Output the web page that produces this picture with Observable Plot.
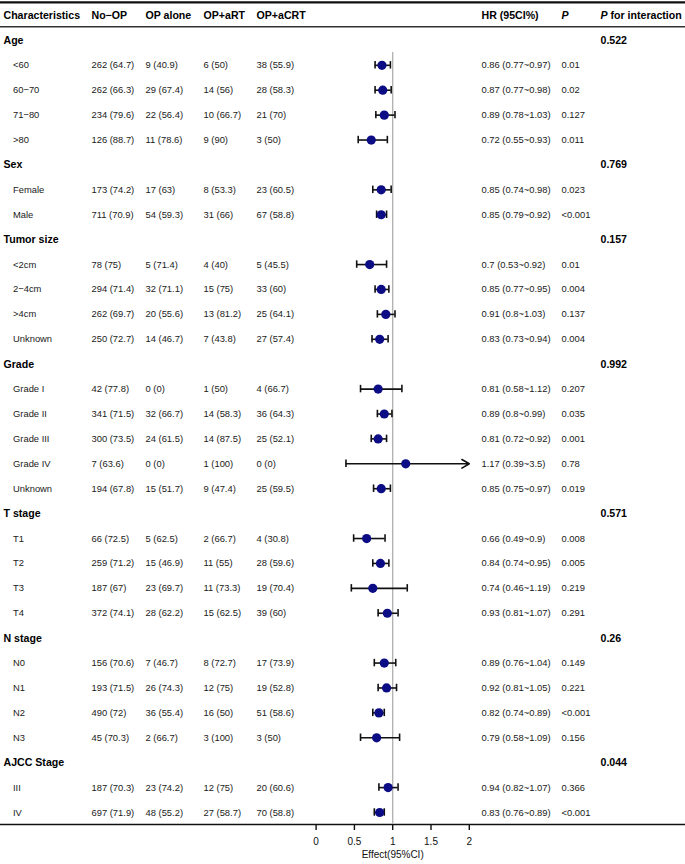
<!DOCTYPE html>
<html>
<head>
<meta charset="utf-8">
<script src="https://cdn.jsdelivr.net/npm/d3@7"></script>
<script src="https://cdn.jsdelivr.net/npm/@observablehq/plot@0.6"></script>
<style>
  html, body { margin: 0; padding: 0; background: #fff; }
  #chart svg { display: block; }
</style>
</head>
<body>
<div id="chart"></div>
<script>
// ---------- data ----------
const headers = ["Characteristics", "No−OP", "OP alone", "OP+aRT", "OP+aCRT", "HR (95CI%)", "P", "P for interaction"];
const groups = ["Age", "Sex", "Tumor size", "Grade", "T stage", "N stage", "AJCC Stage"];
const pInteraction = ["0.522", "0.769", "0.157", "0.992", "0.571", "0.26", "0.044"];

const subGroup = ["Age","Age","Age","Age","Sex","Sex","Tumor size","Tumor size","Tumor size","Tumor size",
  "Grade","Grade","Grade","Grade","Grade","T stage","T stage","T stage","T stage",
  "N stage","N stage","N stage","N stage","AJCC Stage","AJCC Stage"];
const subLabels = ["<60","60−70","71−80",">80","Female","Male","<2cm","2−4cm",">4cm","Unknown",
  "Grade I","Grade II","Grade III","Grade IV","Unknown","T1","T2","T3","T4",
  "N0","N1","N2","N3","III","IV"];
const noOp = ["262 (64.7)","262 (66.3)","234 (79.6)","126 (88.7)","173 (74.2)","711 (70.9)","78 (75)","294 (71.4)","262 (69.7)","250 (72.7)",
  "42 (77.8)","341 (71.5)","300 (73.5)","7 (63.6)","194 (67.8)","66 (72.5)","259 (71.2)","187 (67)","372 (74.1)",
  "156 (70.6)","193 (71.5)","490 (72)","45 (70.3)","187 (70.3)","697 (71.9)"];
const opAlone = ["9 (40.9)","29 (67.4)","22 (56.4)","11 (78.6)","17 (63)","54 (59.3)","5 (71.4)","32 (71.1)","20 (55.6)","14 (46.7)",
  "0 (0)","32 (66.7)","24 (61.5)","0 (0)","15 (51.7)","5 (62.5)","15 (46.9)","23 (69.7)","28 (62.2)",
  "7 (46.7)","26 (74.3)","36 (55.4)","2 (66.7)","23 (74.2)","48 (55.2)"];
const opArt = ["6 (50)","14 (56)","10 (66.7)","9 (90)","8 (53.3)","31 (66)","4 (40)","15 (75)","13 (81.2)","7 (43.8)",
  "1 (50)","14 (58.3)","14 (87.5)","1 (100)","9 (47.4)","2 (66.7)","11 (55)","11 (73.3)","15 (62.5)",
  "8 (72.7)","12 (75)","16 (50)","3 (100)","12 (75)","27 (58.7)"];
const opAcrt = ["38 (55.9)","28 (58.3)","21 (70)","3 (50)","23 (60.5)","67 (58.8)","5 (45.5)","33 (60)","25 (64.1)","27 (57.4)",
  "4 (66.7)","36 (64.3)","25 (52.1)","0 (0)","25 (59.5)","4 (30.8)","28 (59.6)","19 (70.4)","39 (60)",
  "17 (73.9)","19 (52.8)","51 (58.6)","3 (50)","20 (60.6)","70 (58.8)"];
const hr = [0.86,0.87,0.89,0.72,0.85,0.85,0.7,0.85,0.91,0.83,0.81,0.89,0.81,1.17,0.85,0.66,0.84,0.74,0.93,0.89,0.92,0.82,0.79,0.94,0.83];
const lo = [0.77,0.77,0.78,0.55,0.74,0.79,0.53,0.77,0.8,0.73,0.58,0.8,0.72,0.39,0.75,0.49,0.74,0.46,0.81,0.76,0.81,0.74,0.58,0.82,0.76];
const hi = [0.97,0.98,1.03,0.93,0.98,0.92,0.92,0.95,1.03,0.94,1.12,0.99,0.92,3.5,0.97,0.9,0.95,1.19,1.07,1.04,1.05,0.89,1.09,1.07,0.89];
const pValue = ["0.01","0.02","0.127","0.011","0.023","<0.001","0.01","0.004","0.137","0.004","0.207","0.035","0.001","0.78","0.019",
  "0.008","0.005","0.219","0.291","0.149","0.221","<0.001","0.156","0.366","<0.001"];
const xTicks = [0, 0.5, 1, 1.5, 2];
const xLabel = "Effect(95%CI)";

// ---------- layout (pixels) ----------
const W = 685, H = 864;
const colX = [3, 91, 145, 203, 256, 481, 561, 600];
const indent = 12.5;
const font = "Arial, 'Liberation Sans', Helvetica, sans-serif";
const bodySize = 9.4, headSize = 10.6;
const capHalf = 0.15;

// ---------- build rows ----------
const groupRows = [], subRows = [];
let r = 0;
groups.forEach((g, gi) => {
  groupRows.push({label: g, pint: pInteraction[gi], row: r++});
  subLabels.forEach((s, i) => {
    if (subGroup[i] !== g) return;
    subRows.push({
      label: s, noOp: noOp[i], opAlone: opAlone[i], opArt: opArt[i], opAcrt: opAcrt[i],
      hr: hr[i], lo: lo[i], hi: hi[i], p: pValue[i],
      hrText: `${hr[i]} (${lo[i]}~${hi[i]})`, row: r++
    });
  });
});
const lastRow = r - 1;
const xMax = xTicks[xTicks.length - 1];
const inRange = subRows.filter(d => d.hi <= xMax);
const overRange = subRows.filter(d => d.hi > xMax);

const headerRow = [{row: -1}];
const txt = (data, text, dx, extra = {}) => Plot.text(data, {
  y: "row", text, frameAnchor: "left", dx, textAnchor: "start",
  fontSize: bodySize, fill: "#1a1a1a", ...extra
});
const bold = {fontWeight: "bold", fontSize: headSize, fill: "#000"};

const chart = Plot.plot({
  width: W, height: H,
  marginTop: 52, marginBottom: 40, marginLeft: 0, marginRight: 0,
  style: {fontFamily: font, fontSize: "10px", background: "#fff", color: "#111"},
  x: {domain: [0, xMax], range: [315.6, 468.8], label: null},
  y: {type: "linear", domain: [-1, lastRow], range: [15, 812], axis: null},
  marks: [
    // table rules
    Plot.ruleY(headerRow, {y: "row", dy: -13.2, stroke: "#111", strokeWidth: 2.2}),
    Plot.ruleY(headerRow, {y: "row", dy: 11.2, stroke: "#333", strokeWidth: 1.6}),
    Plot.ruleY([lastRow + 0.48], {stroke: "#111", strokeWidth: 1.6}),
    // reference line
    Plot.ruleX([1], {stroke: "#b0b0b0", strokeWidth: 1.3}),
    // x axis
    Plot.axisX(xTicks, {anchor: "bottom", tickSize: 6, tickPadding: 7, tickFormat: d => String(d),
      stroke: "#111", strokeWidth: 1.4, fill: "#111", fontSize: 10, label: null}),
    // header
    txt(headerRow, () => headers[0], colX[0], bold),
    txt(headerRow, () => headers[1], colX[1], bold),
    txt(headerRow, () => headers[2], colX[2], bold),
    txt(headerRow, () => headers[3], colX[3], bold),
    txt(headerRow, () => headers[4], colX[4], bold),
    txt(headerRow, () => headers[5], colX[5], bold),
    txt(headerRow, () => headers[6], colX[6], {...bold, fontStyle: "italic"}),
    txt(headerRow, () => headers[7].slice(0, 1), colX[7], {...bold, fontStyle: "italic"}),
    txt(headerRow, () => headers[7].slice(2), colX[7] + 10, bold),
    // group rows
    txt(groupRows, "label", colX[0], bold),
    txt(groupRows, "pint", colX[7], bold),
    // sub rows
    txt(subRows, "label", indent),
    txt(subRows, "noOp", colX[1]),
    txt(subRows, "opAlone", colX[2]),
    txt(subRows, "opArt", colX[3]),
    txt(subRows, "opAcrt", colX[4]),
    txt(subRows, "hrText", colX[5]),
    txt(subRows, "p", colX[6]),
    // confidence intervals
    Plot.ruleY(inRange, {y: "row", x1: "lo", x2: "hi", stroke: "#111", strokeWidth: 1.6}),
    Plot.ruleX(subRows, {x: "lo", y1: d => d.row - capHalf, y2: d => d.row + capHalf, stroke: "#111", strokeWidth: 1.6}),
    Plot.ruleX(inRange, {x: "hi", y1: d => d.row - capHalf, y2: d => d.row + capHalf, stroke: "#111", strokeWidth: 1.6}),
    Plot.arrow(overRange, {x1: "lo", x2: () => xMax, y1: "row", y2: "row", stroke: "#111", strokeWidth: 1.6, headLength: 8, bend: 0}),
    // point estimates
    Plot.dot(subRows, {x: "hr", y: "row", r: 4.6, fill: "#0c0c85", stroke: "none"}),
    // axis title
    Plot.text([xLabel], {x: 1, frameAnchor: "bottom", dy: 33, fontSize: 10, fill: "#111", text: d => d})
  ]
});
document.getElementById("chart").appendChild(chart);
</script>
</body>
</html>
